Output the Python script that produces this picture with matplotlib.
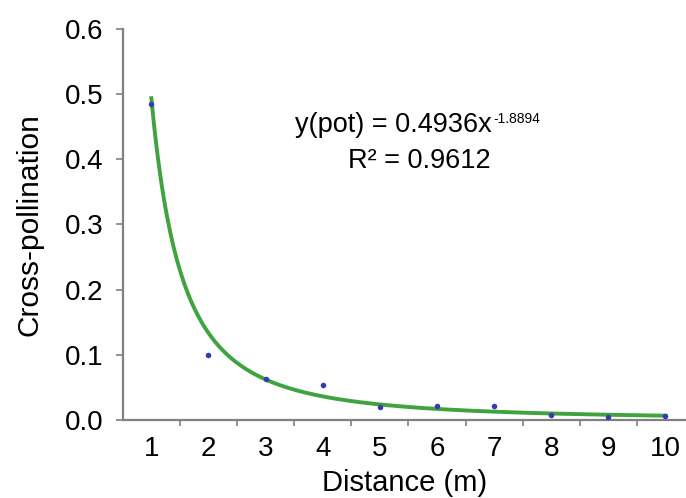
import numpy as np
import matplotlib.pyplot as plt
from matplotlib.ticker import FixedLocator

plt.rcParams['font.family'] = ['Liberation Sans', 'DejaVu Sans']

# observed cross-pollination by distance
distance = [1, 2, 3, 4, 5, 6, 7, 8, 9, 10]
cross_poll = [0.485, 0.100, 0.063, 0.054, 0.020, 0.021, 0.021, 0.007, 0.004, 0.006]

# power fit y = a * x^b
fit_a = 0.4936
fit_b = -1.8894
r2 = 0.9612

yticks = [0.0, 0.1, 0.2, 0.3, 0.4, 0.5, 0.6]

W, H = 686, 498
fig = plt.figure(figsize=(W / 100, H / 100), dpi=100)
ax = fig.add_axes([0.179, 0.157, 0.821, 0.785])

xs = np.linspace(1, 10, 300)
ax.plot(xs, fit_a * xs ** fit_b, color='#3fa33f', lw=2.8, zorder=2)
ax.scatter(distance, cross_poll, s=16, color='#3a3ab0', zorder=3, linewidths=0)

ax.set_xlim(0.5, 10.36)
ax.set_ylim(0, 0.6)
ax.set_xticks(distance)
ax.set_xticklabels([str(d) for d in distance])
ax.xaxis.set_minor_locator(FixedLocator([d + 0.5 for d in distance]))
ax.tick_params(axis='x', which='major', length=0, pad=12, labelsize=20)
ax.tick_params(axis='x', which='minor', length=4, color='#808080', width=1.2)
ax.set_yticks(yticks)
ax.set_yticklabels([f"{v:.1f}" for v in yticks])
ax.tick_params(axis='y', length=5, color='#808080', width=1.2, labelsize=20, pad=9)

for s in ['top', 'right']:
    ax.spines[s].set_visible(False)
for s in ['left', 'bottom']:
    ax.spines[s].set_color('#808080')
    ax.spines[s].set_linewidth(1.6)

ax.set_xlabel('Distance (m)', fontsize=21)
ax.xaxis.set_label_coords(0.5, -0.127)
ax.set_ylabel('Cross-pollination', fontsize=21.5)
ax.yaxis.set_label_coords(-0.141, 0.5)

# fit equation, placed in figure pixels
t1 = fig.text(295 / W, 1 - 132 / H, 'y(pot) = 0.4936x', fontsize=19.5,
              ha='left', va='baseline')
ax.annotate(f'{fit_b:.4f}', xy=(1, 1), xycoords=t1, xytext=(1, 0),
            textcoords='offset points', fontsize=10, ha='left', va='top')
fig.text(419.5 / W, 1 - 168 / H, f'R² = {r2:.4f}', fontsize=19.5,
         ha='center', va='baseline')

fig.savefig('out.png', dpi=100)
